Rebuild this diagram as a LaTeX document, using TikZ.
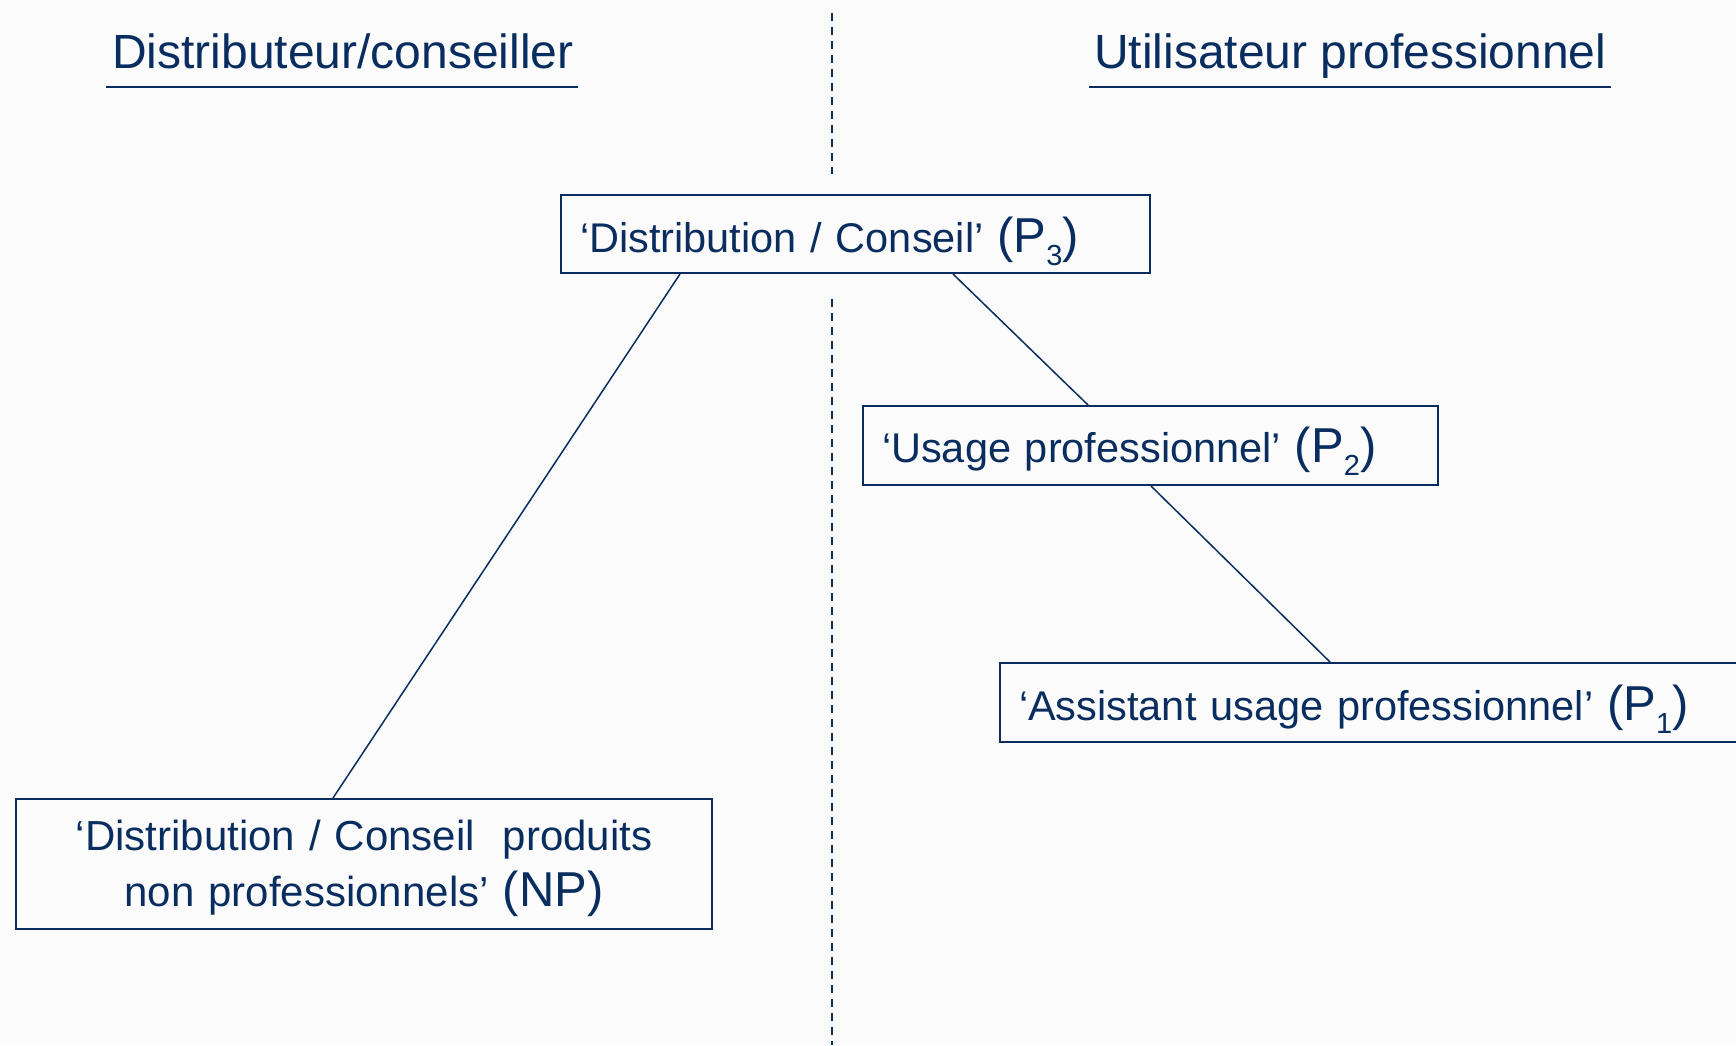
\documentclass[tikz,border=0pt]{standalone}
\usepackage{fontspec}
\setmainfont{Liberation Sans}
\usetikzlibrary{calc}
\definecolor{navy}{RGB}{10,45,95}
\definecolor{paper}{RGB}{251,251,251}

\newcommand\bigtag[1]{{\fontsize{49}{56}\selectfont #1}}
\newcommand\ptag[1]{\bigtag{(P\raisebox{-13pt}{\fontsize{29}{30}\selectfont #1})}}

\tikzset{
    box/.style={draw=navy,line width=2pt,text=navy,anchor=north west,inner xsep=19pt,inner ysep=0pt,align=left,font=\fontsize{41.5}{56}\selectfont},
    heading/.style={text=navy,anchor=base west,inner sep=0pt,font=\fontsize{48}{58}\selectfont},
    rule/.style={navy,line width=2.4pt},
    link/.style={navy,line width=1.5pt},
    divider/.style={navy,line width=1.5pt,dash pattern=on 8pt off 6pt}
}

\begin{document}
\begin{tikzpicture}[x=1pt,y=-1pt]
            \path[use as bounding box,fill=paper] (0,0) rectangle (1736,1045);
            \clip (0,0) rectangle (1736,1045);

            \node[heading] (left) at (112,68) {Distributeur/conseiller};
            \node[heading] (right) at (1094,68) {Utilisateur professionnel};
            \draw[rule] ($(left.base west)+(-6,19)$)--($(left.base east)+(4,19)$);
            \draw[rule] ($(right.base west)+(-5,19)$)--($(right.base east)+(4,19)$);

            \draw[divider] (832,13)--(832,174);
            \draw[divider] (832,299)--(832,1045);

            \node[box,text width=551pt,text height=57pt,text depth=21pt] (p3) at (560,194) {‘Distribution / Conseil’ \ptag{3}};
            \node[box,text width=537pt,text height=56pt,text depth=23pt] (p2) at (862,405) {‘Usage professionnel’ \ptag{2}};
            \node[box,text width=820pt,text height=57pt,text depth=22pt] (p1) at (999,662) {‘Assistant usage professionnel’ \ptag{1}};
            \node[box,text width=658pt,align=center,text height=51pt,text depth=79pt,font=\fontsize{42}{56}\selectfont] (np) at (15,798) {‘Distribution / Conseil~ produits\\non professionnels’ \bigtag{(NP)}};

            \draw[link] ($(p3.south west)+(120,0)$)--($(np.north west)+(318,0)$);
            \draw[link] ($(p3.south west)+(393,0)$)--($(p2.north west)+(226,0)$);
            \draw[link] ($(p2.south west)+(289,0)$)--($(p1.north west)+(331,0)$);
\end{tikzpicture}
\end{document}
